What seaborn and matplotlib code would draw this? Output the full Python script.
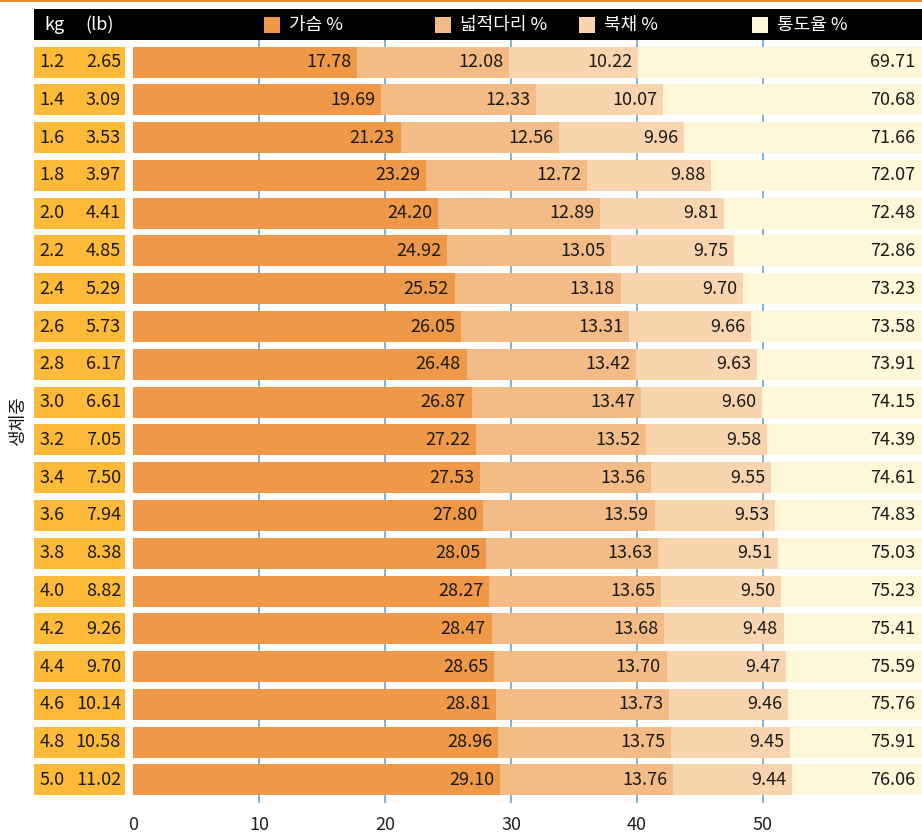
import numpy as np
import pandas as pd
import matplotlib.pyplot as plt
import seaborn as sns
from matplotlib.patches import Rectangle

# data
kg = ["1.2", "1.4", "1.6", "1.8", "2.0", "2.2", "2.4", "2.6", "2.8", "3.0",
      "3.2", "3.4", "3.6", "3.8", "4.0", "4.2", "4.4", "4.6", "4.8", "5.0"]
lb = ["2.65", "3.09", "3.53", "3.97", "4.41", "4.85", "5.29", "5.73", "6.17", "6.61",
      "7.05", "7.50", "7.94", "8.38", "8.82", "9.26", "9.70", "10.14", "10.58", "11.02"]
breast = [17.78, 19.69, 21.23, 23.29, 24.20, 24.92, 25.52, 26.05, 26.48, 26.87,
          27.22, 27.53, 27.80, 28.05, 28.27, 28.47, 28.65, 28.81, 28.96, 29.10]
thigh = [12.08, 12.33, 12.56, 12.72, 12.89, 13.05, 13.18, 13.31, 13.42, 13.47,
         13.52, 13.56, 13.59, 13.63, 13.65, 13.68, 13.70, 13.73, 13.75, 13.76]
drum = [10.22, 10.07, 9.96, 9.88, 9.81, 9.75, 9.70, 9.66, 9.63, 9.60,
        9.58, 9.55, 9.53, 9.51, 9.50, 9.48, 9.47, 9.46, 9.45, 9.44]
yield_pct = [69.71, 70.68, 71.66, 72.07, 72.48, 72.86, 73.23, 73.58, 73.91, 74.15,
             74.39, 74.61, 74.83, 75.03, 75.23, 75.41, 75.59, 75.76, 75.91, 76.06]
legend_labels = ["가슴 %", "넓적다리 %", "북채 %", "통도율 %"]

colors = ["#EE9848", "#F3BB85", "#F8D5AF", "#FFF7DA"]
box_color = "#FDBA38"
grid_color = "#78ACD6"
text_color = "#1a1a1a"
fs = 13

sns.set_style("white")
plt.rcParams["font.family"] = ["Noto Sans CJK KR", "DejaVu Sans"]

df = pd.DataFrame({"kg": kg, "lb": lb, "breast": breast, "thigh": thigh,
                   "drum": drum, "yield": yield_pct})
df["c1"] = df["breast"]
df["c2"] = df["c1"] + df["thigh"]
df["c3"] = df["c2"] + df["drum"]

W, H = 922, 835
fig = plt.figure(figsize=(W / 100, H / 100), dpi=100)

x_left, x_right = 34, 922
y_top, y_bot = 39, 803
ax = fig.add_axes([x_left / W, 1 - y_bot / H, (x_right - x_left) / W, (y_bot - y_top) / H])

xmin, xmax = -7.86, 62.62
bar_h = 0.82
df["full"] = xmax

# layered stacked bars: widest first
sns.barplot(data=df, y="kg", x="full", color=colors[3], width=bar_h,
            saturation=1, linewidth=0, ax=ax, zorder=2)
for col, c in zip(["c3", "c2", "c1"], [colors[2], colors[1], colors[0]]):
    sns.barplot(data=df, y="kg", x=col, color=c, width=bar_h,
                saturation=1, linewidth=0, ax=ax, zorder=3)

# grid lines (only visible between bars)
ax.vlines([10, 20, 30, 40, 50], -0.61, 19.61, color=grid_color, lw=1.3, zorder=1)

# value labels
for i, r in df.iterrows():
    for end, val in [(r["c1"], r["breast"]), (r["c2"], r["thigh"]), (r["c3"], r["drum"])]:
        ax.text(end - 0.45, i, f"{val:.2f}", ha="right", va="center",
                fontsize=fs, color=text_color, zorder=5)
    ax.text(xmax - 0.55, i, f"{r['yield']:.2f}", ha="right", va="center",
            fontsize=fs, color=text_color, zorder=5)
    # weight table boxes
    ax.barh(i, -0.63 - xmin, left=xmin, height=bar_h, color=box_color,
            linewidth=0, zorder=3)
    ax.text(xmin + 0.45, i, r["kg"], ha="left", va="center", fontsize=fs,
            color=text_color, zorder=5)
    ax.text(-0.95, i, r["lb"], ha="right", va="center", fontsize=fs,
            color=text_color, zorder=5)

ax.set_xlim(xmin, xmax)
ax.set_ylim(19.61, -0.61)
ax.set_xticks([0, 10, 20, 30, 40, 50])
ax.set_yticks([])
ax.set_xlabel("")
ax.set_ylabel("")
ax.tick_params(axis="x", length=0, pad=9, labelsize=fs, labelcolor="#222222")
for s in ax.spines.values():
    s.set_visible(False)

# y label
fig.text(18 / W, 1 - 421 / H, "생체중", rotation=90, ha="center", va="center",
         fontsize=fs, color=text_color)

# top orange rule
fig.add_artist(Rectangle((0, 1 - 2 / H), 1, 2 / H, transform=fig.transFigure,
                         color="#E8872A", lw=0))

# header bar
fig.add_artist(Rectangle((x_left / W, 1 - 40 / H), (x_right - x_left) / W, 31 / H,
                         transform=fig.transFigure, color="black", lw=0))
hy = 1 - 25 / H
fig.text(54 / W, hy, "kg", ha="center", va="center", color="white", fontsize=fs)
fig.text(100 / W, hy, "(lb)", ha="center", va="center", color="white", fontsize=fs)
for x0, lab, c in zip([264, 435, 579, 752], legend_labels, colors):
    fig.add_artist(Rectangle((x0 / W, 1 - 33 / H), 16 / W, 16 / H,
                             transform=fig.transFigure, color=c, lw=0))
    fig.text((x0 + 25) / W, hy, lab, ha="left", va="center", color="white",
             fontsize=fs)

fig.savefig("out.png", dpi=100)
